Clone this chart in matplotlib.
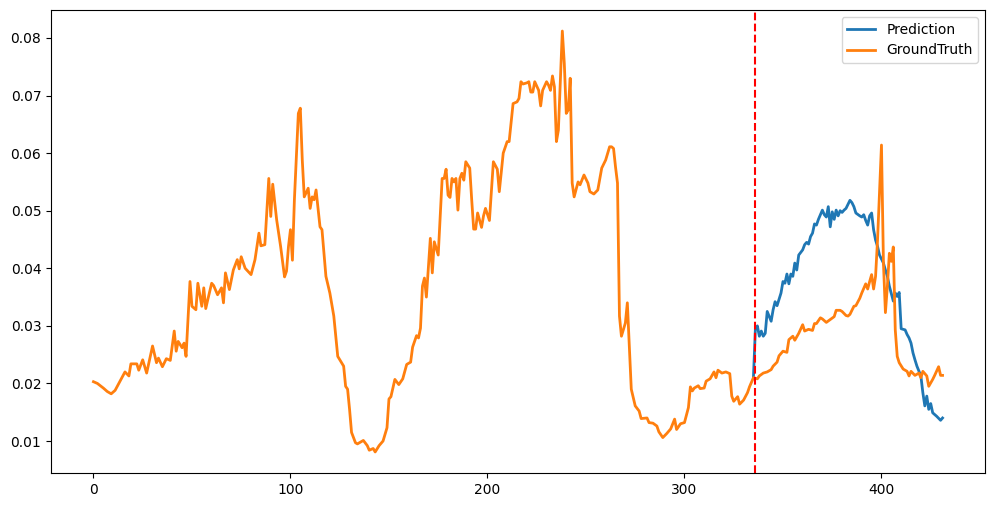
import matplotlib
matplotlib.use("Agg")
import matplotlib.pyplot as plt

# GroundTruth series (time step, value)
gt_x = [0, 2, 5, 7, 9, 11, 14, 16, 18, 19, 22, 23, 25, 27, 30, 32, 33, 35, 37, 39,
        41, 42, 43, 45, 46, 47, 49, 50, 52, 53, 55, 56, 57, 58, 60, 61, 63, 65, 66, 67,
        69, 71, 73, 74, 75, 77, 80, 82, 84, 85, 87, 89, 90, 91, 93, 95, 97, 98, 99, 100,
        101, 102, 104, 105, 106, 107, 109, 110, 111, 112, 113, 115, 116, 118, 120, 122, 124, 127, 128, 129,
        130, 131, 133, 134, 137, 139, 140, 142, 143, 145, 147, 149, 150, 151, 153, 155, 157, 159, 161, 162,
        164, 165, 166, 167, 168, 169, 171, 172, 173, 175, 177, 178, 179, 180, 181, 182, 183, 184, 185, 186,
        187, 188, 189, 191, 192, 193, 194, 195, 197, 198, 199, 201, 203, 205, 206, 208, 210, 211, 213, 215,
        216, 217, 218, 220, 221, 222, 223, 224, 226, 227, 228, 230, 231, 232, 233, 234, 235, 236, 238, 239,
        240, 241, 242, 243, 244, 246, 247, 249, 251, 252, 254, 256, 258, 260, 262, 263, 264, 265, 266, 267,
        268, 270, 271, 273, 275, 277, 278, 281, 282, 284, 286, 287, 289, 291, 293, 295, 296, 298, 300, 302,
        303, 304, 305, 307, 308, 310, 311, 313, 315, 316, 317, 319, 321, 323, 324, 325, 327, 328, 330, 332,
        333, 335, 337, 338, 340, 342, 344, 345, 347, 348, 349, 350, 352, 353, 355, 356, 358, 360, 361, 363,
        365, 366, 367, 369, 370, 372, 374, 376, 377, 379, 380, 382, 383, 384, 386, 387, 389, 390, 392, 393,
        394, 395, 396, 397, 398, 400, 401, 402, 403, 404, 405, 406, 407, 408, 409, 411, 413, 414, 415, 417,
        419, 420, 421, 423, 424, 426, 427, 429, 430, 431]
gt_y = [0.0203, 0.0200, 0.0192, 0.0186, 0.0182, 0.0188, 0.0207, 0.0220, 0.0213, 0.0234,
        0.0234, 0.0223, 0.0241, 0.0218, 0.0265, 0.0236, 0.0244, 0.0229, 0.0243, 0.0240,
        0.0291, 0.0256, 0.0273, 0.0262, 0.0270, 0.0247, 0.0377, 0.0334, 0.0328, 0.0374,
        0.0334, 0.0366, 0.0330, 0.0345, 0.0374, 0.0370, 0.0354, 0.0366, 0.0340, 0.0392,
        0.0363, 0.0397, 0.0415, 0.0399, 0.0420, 0.0400, 0.0389, 0.0415, 0.0461, 0.0439,
        0.0441, 0.0556, 0.0490, 0.0546, 0.0484, 0.0438, 0.0385, 0.0395, 0.0438, 0.0467,
        0.0414, 0.0519, 0.0669, 0.0678, 0.0588, 0.0524, 0.0539, 0.0504, 0.0524, 0.0519,
        0.0536, 0.0472, 0.0467, 0.0386, 0.0357, 0.0317, 0.0247, 0.0230, 0.0195, 0.0190,
        0.0155, 0.0115, 0.0097, 0.0095, 0.0101, 0.0092, 0.0084, 0.0087, 0.0081, 0.0092,
        0.0100, 0.0123, 0.0173, 0.0177, 0.0207, 0.0198, 0.0208, 0.0233, 0.0237, 0.0263,
        0.0283, 0.0279, 0.0296, 0.0369, 0.0383, 0.0350, 0.0452, 0.0392, 0.0446, 0.0423,
        0.0556, 0.0556, 0.0572, 0.0527, 0.0523, 0.0556, 0.0550, 0.0556, 0.0501, 0.0556,
        0.0565, 0.0553, 0.0585, 0.0574, 0.0519, 0.0468, 0.0468, 0.0496, 0.0471, 0.0491,
        0.0504, 0.0483, 0.0585, 0.0572, 0.0533, 0.0600, 0.0620, 0.0620, 0.0686, 0.0689,
        0.0695, 0.0724, 0.0720, 0.0722, 0.0724, 0.0706, 0.0706, 0.0724, 0.0709, 0.0682,
        0.0709, 0.0724, 0.0718, 0.0709, 0.0734, 0.0715, 0.0620, 0.0640, 0.0812, 0.0756,
        0.0669, 0.0675, 0.0730, 0.0548, 0.0524, 0.0550, 0.0545, 0.0562, 0.0548, 0.0533,
        0.0529, 0.0536, 0.0574, 0.0588, 0.0611, 0.0611, 0.0608, 0.0576, 0.0548, 0.0317,
        0.0282, 0.0305, 0.0340, 0.0190, 0.0161, 0.0152, 0.0139, 0.0140, 0.0132, 0.0131,
        0.0126, 0.0116, 0.0106, 0.0113, 0.0121, 0.0138, 0.0120, 0.0130, 0.0132, 0.0158,
        0.0194, 0.0187, 0.0192, 0.0196, 0.0191, 0.0192, 0.0204, 0.0208, 0.0220, 0.0210,
        0.0223, 0.0218, 0.0220, 0.0217, 0.0178, 0.0169, 0.0177, 0.0164, 0.0171, 0.0184,
        0.0194, 0.0210, 0.0208, 0.0213, 0.0218, 0.0220, 0.0224, 0.0230, 0.0237, 0.0248,
        0.0252, 0.0256, 0.0254, 0.0276, 0.0282, 0.0275, 0.0287, 0.0302, 0.0291, 0.0294,
        0.0292, 0.0304, 0.0304, 0.0314, 0.0312, 0.0306, 0.0311, 0.0316, 0.0327, 0.0327,
        0.0325, 0.0318, 0.0317, 0.0320, 0.0334, 0.0335, 0.0348, 0.0357, 0.0373, 0.0364,
        0.0377, 0.0389, 0.0364, 0.0386, 0.0449, 0.0614, 0.0409, 0.0323, 0.0369, 0.0426,
        0.0412, 0.0437, 0.0293, 0.0247, 0.0236, 0.0225, 0.0221, 0.0213, 0.0221, 0.0214,
        0.0218, 0.0210, 0.0221, 0.0213, 0.0195, 0.0207, 0.0214, 0.0229, 0.0214, 0.0214]

# Prediction series (starts at the last observed step)
pred_x = [335, 336, 337, 338, 339, 340, 341, 342, 344, 345, 346, 347, 349, 350, 351, 352, 353, 354, 355, 356,
          357, 358, 360, 361, 362, 363, 364, 365, 366, 367, 368, 369, 370, 371, 372, 373, 374, 375, 376, 377,
          378, 379, 380, 381, 382, 384, 385, 386, 387, 389, 390, 391, 392, 393, 394, 395, 396, 397, 398, 399,
          401, 402, 403, 404, 406, 407, 408, 409, 410, 412, 413, 414, 415, 416, 417, 418, 420, 421, 422, 423,
          424, 425, 426, 428, 430, 431]
pred_y = [0.0210, 0.0295, 0.0300, 0.0282, 0.0291, 0.0282, 0.0287, 0.0325, 0.0308, 0.0328,
          0.0342, 0.0335, 0.0357, 0.0377, 0.0374, 0.0390, 0.0373, 0.0390, 0.0386, 0.0409,
          0.0397, 0.0423, 0.0432, 0.0441, 0.0445, 0.0442, 0.0455, 0.0461, 0.0477, 0.0475,
          0.0485, 0.0493, 0.0501, 0.0493, 0.0489, 0.0507, 0.0472, 0.0498, 0.0485, 0.0501,
          0.0491, 0.0500, 0.0497, 0.0501, 0.0504, 0.0518, 0.0514, 0.0507, 0.0496, 0.0491,
          0.0489, 0.0493, 0.0483, 0.0475, 0.0491, 0.0496, 0.0467, 0.0449, 0.0438, 0.0423,
          0.0409, 0.0397, 0.0386, 0.0369, 0.0343, 0.0357, 0.0351, 0.0358, 0.0295, 0.0293,
          0.0285, 0.0279, 0.0270, 0.0253, 0.0241, 0.0230, 0.0213, 0.0184, 0.0161, 0.0178,
          0.0155, 0.0165, 0.0149, 0.0143, 0.0136, 0.0140]

split_step = 336

fig = plt.figure(figsize=(9.97, 5.08), dpi=100)
ax = fig.add_axes([51 / 997, 35 / 508, 934 / 997, 463 / 508])

ax.plot(pred_x, pred_y, label="Prediction", color="tab:blue", linewidth=2)
ax.plot(gt_x, gt_y, label="GroundTruth", color="tab:orange", linewidth=2)
ax.axvline(split_step, color="red", linestyle="--", linewidth=1.5)

ax.legend(loc="upper right")

fig.savefig("out.png", dpi=100)
